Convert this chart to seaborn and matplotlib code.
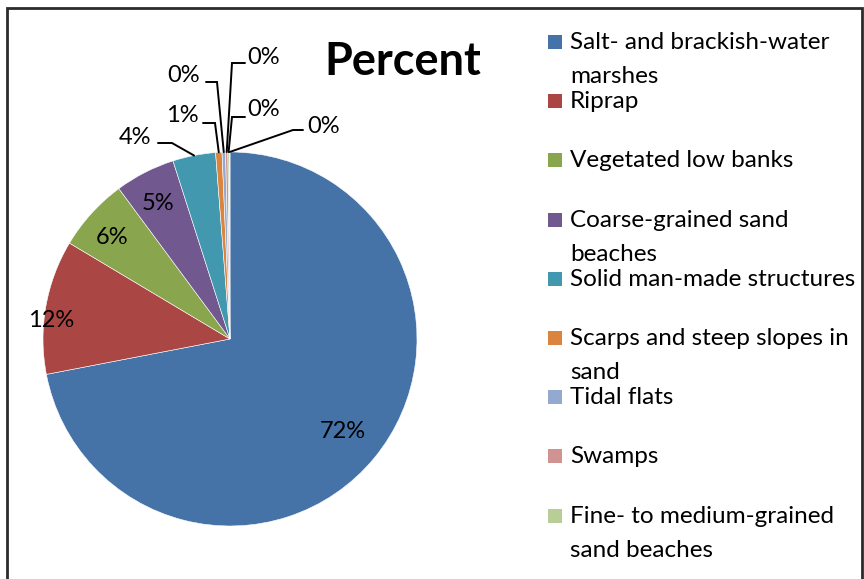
import numpy as np
import matplotlib
matplotlib.use("Agg")
import matplotlib.pyplot as plt
from matplotlib.patches import Rectangle
import seaborn as sns

# Shoreline types and their share (percent)
categories = [
    "Salt- and brackish-water\nmarshes",
    "Riprap",
    "Vegetated low banks",
    "Coarse-grained sand\nbeaches",
    "Solid man-made structures",
    "Scarps and steep slopes in\nsand",
    "Tidal flats",
    "Swamps",
    "Fine- to medium-grained\nsand beaches",
    "Other",
]
values = [71.97, 11.6, 6.3, 5.2, 3.7, 0.55, 0.3, 0.2, 0.12, 0.06]
n_legend = 9  # the last legend entry falls below the picture edge

colors = sns.color_palette([
    "#4572A7", "#AA4643", "#89A54E", "#71588F", "#4198AF",
    "#DB843D", "#93A9CF", "#D19392", "#B9CD96", "#A99BBD",
])

sns.set_theme(style="white")
plt.rcParams["font.family"] = ["Lato", "DejaVu Sans"]

W, H = 864, 579
CX, CY, R = 230, 339, 187  # pie centre / radius in pixels


def px(x, y):
    # pixel (from top-left) -> data coords, radius 1 == R pixels
    return (x - CX) / R, (CY - y) / R


fig = plt.figure(figsize=(W / 100, H / 100), dpi=100)
ax = fig.add_axes([0, 0, 1, 1])

wedges, _ = ax.pie(values, colors=colors, startangle=90, counterclock=False,
                   wedgeprops=dict(edgecolor="white", linewidth=0.4))
ax.set_xlim((0 - CX) / R, (W - CX) / R)
ax.set_ylim((CY - H) / R, CY / R)
ax.set_aspect("equal")
ax.axis("off")

pct = np.array(values) / np.sum(values) * 100
pct_labels = [f"{round(p):.0f}%" for p in pct]

# labels inside the big slices (distance from centre, angle nudge in degrees)
inside = [(0.78, 0), (0.96, 4), (0.83, 1.5), (0.82, 1)]
for i, (d, nudge) in enumerate(inside):
    w = wedges[i]
    a = np.deg2rad((w.theta1 + w.theta2) / 2 + nudge)
    ax.text(d * np.cos(a), d * np.sin(a), pct_labels[i], ha="center", va="center",
            fontsize=17, color="black")

# small slices: labels outside with leader lines (text pos, elbow, line end, align)
outside = {
    4: ((151, 138), (172, 143), (158, 143), "right"),
    5: ((199, 116), (215, 123), (203, 123), "right"),
    6: ((200, 75), (217, 82), (206, 82), "right"),
    7: ((247, 57), (232, 63), (245, 63), "left"),
    8: ((247, 110), (232, 117), (245, 117), "left"),
    9: ((307, 127), (293, 130), (303, 130), "left"),
}
for i, (tpos, elbow, end, ha) in outside.items():
    w = wedges[i]
    a = np.deg2rad((w.theta1 + w.theta2) / 2)
    p0 = (np.cos(a), np.sin(a))
    p1 = px(*elbow)
    p2 = px(*end)
    ax.plot([p0[0], p1[0], p2[0]], [p0[1], p1[1], p2[1]], color="black", lw=1.4,
            solid_joinstyle="miter")
    tx, ty = px(*tpos)
    ax.text(tx, ty, pct_labels[i], ha=ha, va="center", fontsize=17, color="black")

# title
fig.text(403 / W, 1 - 75 / H, "Percent", ha="center", va="baseline",
         fontsize=32.5, fontweight="bold", color="black")

# legend, Excel style: marker sits on the first line of each entry
for i in range(n_legend):
    base = 49 + 59.2 * i
    fig.add_artist(Rectangle((548 / W, 1 - base / H), 14 / W, 14 / H,
                             transform=fig.transFigure, color=colors[i], lw=0))
    for k, line in enumerate(categories[i].split("\n")):
        fig.text(570 / W, 1 - (base + 34 * k) / H, line, ha="left", va="baseline",
                 fontsize=17.5, color="black")

# chart border
fig.add_artist(Rectangle((7 / W, -0.02), (862 - 7) / W, (H - 8) / H + 0.02,
                         transform=fig.transFigure, fill=False, lw=2,
                         ec="#2b2b2b"))

fig.savefig("out.png", dpi=100)
